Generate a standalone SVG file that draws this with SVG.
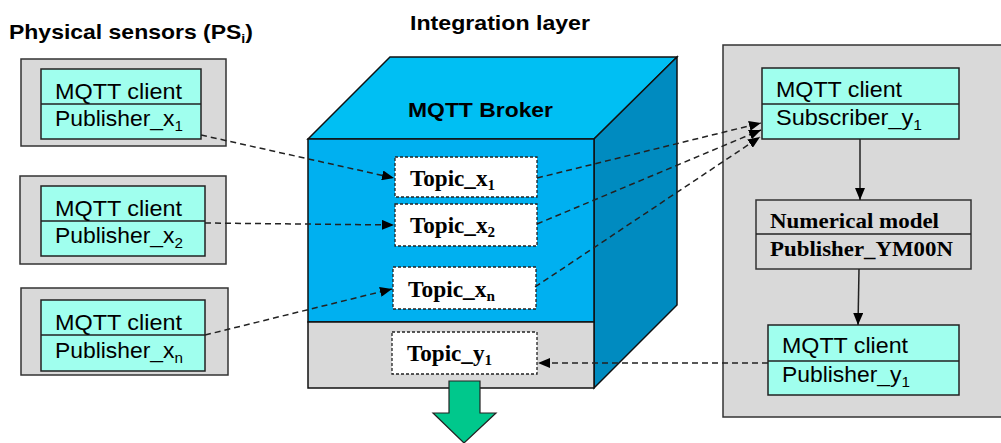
<svg xmlns="http://www.w3.org/2000/svg" width="1001" height="443" viewBox="0 0 1001 443">
<style>
.title{font-family:"Liberation Sans",Arial,sans-serif;font-weight:bold;font-size:21px;fill:#000}
.ar{font-family:"Liberation Sans",Arial,sans-serif;font-size:22.5px;fill:#000}
.tm{font-family:"Liberation Serif","Times New Roman",serif;font-weight:bold;font-size:23px;fill:#000}
.tm2{font-family:"Liberation Serif","Times New Roman",serif;font-weight:bold;font-size:21.5px;fill:#000}
.outer{fill:#D9D9D9;stroke:#333;stroke-width:1.5}
.cyan{fill:#A0FFEE;stroke:#222;stroke-width:1.5}
.topic{fill:#fff;stroke:#222;stroke-width:1.3;stroke-dasharray:3,2}
.dash{fill:none;stroke:#222;stroke-width:1.5;stroke-dasharray:6,4}
.solid{fill:none;stroke:#222;stroke-width:1.5}
</style>
<defs>
<marker id="ah" viewBox="0 0 12 10" refX="12" refY="5" markerWidth="12" markerHeight="10" markerUnits="userSpaceOnUse" orient="auto">
<path d="M0,0 L12,5 L0,10 Z" fill="#000"/>
</marker>
</defs>

<text class="title" x="9" y="39" textLength="244" lengthAdjust="spacingAndGlyphs">Physical sensors (PS<tspan font-size="13" dy="4">i</tspan><tspan dy="-4">)</tspan></text>
<text class="title" x="410" y="30" textLength="180" lengthAdjust="spacingAndGlyphs">Integration layer</text>

<g id="ps1">
<rect class="outer" x="21" y="59" width="205" height="87"/>
<rect class="cyan" x="41" y="69" width="160" height="70"/>
<line class="solid" x1="41" y1="104" x2="201" y2="104"/>
<text class="ar" x="55" y="99" textLength="127" lengthAdjust="spacingAndGlyphs">MQTT client</text>
<text class="ar" x="55" y="126" textLength="128" lengthAdjust="spacingAndGlyphs">Publisher_x<tspan font-size="15" dy="5">1</tspan></text>
</g>
<g id="ps2">
<rect class="outer" x="20" y="176" width="206" height="88"/>
<rect class="cyan" x="41" y="186" width="164" height="70"/>
<line class="solid" x1="41" y1="221" x2="205" y2="221"/>
<text class="ar" x="55" y="216" textLength="127" lengthAdjust="spacingAndGlyphs">MQTT client</text>
<text class="ar" x="55" y="243" textLength="128" lengthAdjust="spacingAndGlyphs">Publisher_x<tspan font-size="15" dy="5">2</tspan></text>
</g>
<g id="psn">
<rect class="outer" x="21" y="288" width="207" height="87"/>
<rect class="cyan" x="41" y="300" width="164" height="71"/>
<line class="solid" x1="41" y1="335" x2="205" y2="335"/>
<text class="ar" x="55" y="330" textLength="127" lengthAdjust="spacingAndGlyphs">MQTT client</text>
<text class="ar" x="55" y="358" textLength="128" lengthAdjust="spacingAndGlyphs">Publisher_x<tspan font-size="15" dy="5">n</tspan></text>
</g>

<g id="broker">
<polygon points="308,139 390,57 677,57 594,139" fill="#00BFF3" stroke="#111" stroke-width="1.5"/>
<polygon points="594,139 677,57 677,305 594,388" fill="#008BC0" stroke="#111" stroke-width="1.5"/>
<rect x="308" y="139" width="286" height="183" fill="#00B0F0" stroke="#111" stroke-width="1.5"/>
<rect x="308" y="322" width="286" height="66" fill="#D9D9D9" stroke="#111" stroke-width="1.5"/>
<text class="title" x="408" y="117" textLength="145" lengthAdjust="spacingAndGlyphs">MQTT Broker</text>
</g>
<g id="topic_x1">
<rect class="topic" x="395" y="157" width="142" height="40"/>
<text class="tm" x="410" y="186" textLength="85" lengthAdjust="spacingAndGlyphs">Topic_x<tspan font-size="15" dy="4">1</tspan></text>
</g>
<g id="topic_x2">
<rect class="topic" x="395" y="204" width="142" height="42"/>
<text class="tm" x="410" y="233" textLength="85" lengthAdjust="spacingAndGlyphs">Topic_x<tspan font-size="15" dy="4">2</tspan></text>
</g>
<g id="topic_xn">
<rect class="topic" x="393" y="267" width="143" height="42"/>
<text class="tm" x="408" y="297" textLength="87" lengthAdjust="spacingAndGlyphs">Topic_x<tspan font-size="15" dy="4">n</tspan></text>
</g>
<g id="topic_y1">
<rect class="topic" x="392" y="332" width="145" height="42"/>
<text class="tm" x="407" y="361" textLength="85" lengthAdjust="spacingAndGlyphs">Topic_y<tspan font-size="15" dy="4">1</tspan></text>
</g>
<g id="output_arrow">
<polygon points="449,381 480,381 480,413 496,413 464,443 433,413 449,413" fill="#00C88C" stroke="#222" stroke-width="1.2"/>
</g>

<g id="model_panel">
<rect class="outer" x="723" y="45" width="290" height="372"/>
</g>
<g id="subscriber">
<rect class="cyan" x="762" y="68" width="197" height="71"/>
<line class="solid" x1="762" y1="104" x2="959" y2="104"/>
<text class="ar" x="776" y="97" textLength="126" lengthAdjust="spacingAndGlyphs">MQTT client</text>
<text class="ar" x="776" y="125" textLength="146" lengthAdjust="spacingAndGlyphs">Subscriber_y<tspan font-size="15" dy="5">1</tspan></text>
</g>
<g id="numerical_model">
<rect x="756" y="200" width="215" height="69" fill="#D9D9D9" stroke="#333" stroke-width="1.5"/>
<line class="solid" x1="756" y1="234" x2="971" y2="234"/>
<text class="tm2" x="770" y="228" textLength="169" lengthAdjust="spacingAndGlyphs">Numerical model</text>
<text class="tm2" x="770" y="256" textLength="183" lengthAdjust="spacingAndGlyphs">Publisher_YM00N</text>
</g>
<g id="publisher_y1">
<rect class="cyan" x="768" y="325" width="191" height="70"/>
<line class="solid" x1="768" y1="361" x2="959" y2="361"/>
<text class="ar" x="782" y="353" textLength="126" lengthAdjust="spacingAndGlyphs">MQTT client</text>
<text class="ar" x="782" y="382" textLength="128" lengthAdjust="spacingAndGlyphs">Publisher_y<tspan font-size="15" dy="5">1</tspan></text>
</g>

<g id="connectors">
<line class="dash" x1="201" y1="135" x2="394" y2="178" marker-end="url(#ah)"/>
<line class="dash" x1="205" y1="223" x2="394" y2="225" marker-end="url(#ah)"/>
<line class="dash" x1="205" y1="335" x2="392" y2="289" marker-end="url(#ah)"/>
<line class="dash" x1="537" y1="178" x2="761" y2="123" marker-end="url(#ah)"/>
<line class="dash" x1="537" y1="224" x2="761" y2="130" marker-end="url(#ah)"/>
<line class="dash" x1="535" y1="287" x2="760" y2="137" marker-end="url(#ah)"/>
<line class="dash" x1="768" y1="363" x2="538" y2="363" marker-end="url(#ah)"/>
<line class="solid" x1="860" y1="139" x2="860" y2="200" marker-end="url(#ah)"/>
<line class="solid" x1="859" y1="269" x2="858" y2="325" marker-end="url(#ah)"/>
</g>
</svg>
